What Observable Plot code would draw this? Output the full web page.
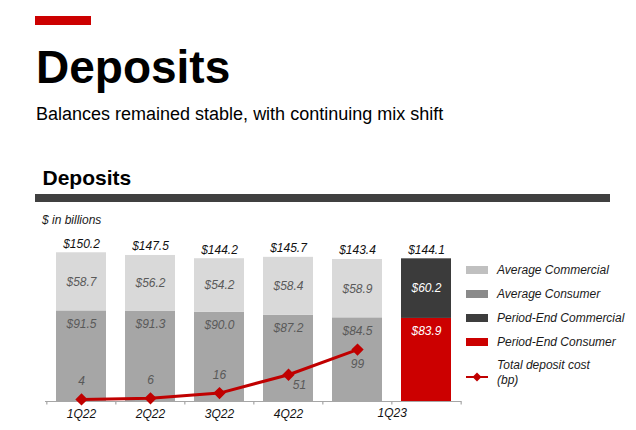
<!DOCTYPE html>
<html>
<head>
<meta charset="utf-8">
<script src="https://cdn.jsdelivr.net/npm/d3@7"></script>
<script src="https://cdn.jsdelivr.net/npm/@observablehq/plot@0.6"></script>
<style>
  html, body { margin: 0; padding: 0; background: #fff; }
  body { width: 636px; height: 430px; position: relative; overflow: hidden; font-family: "Liberation Sans", Arial, sans-serif; color: #000; }
  .abs { position: absolute; white-space: nowrap; }
  #redbar { left: 35px; top: 16px; width: 56px; height: 9px; background: #cc0000; }
  #title { left: 36px; top: 44px; font-size: 46px; line-height: 46px; font-weight: bold; }
  #subtitle { left: 36px; top: 105px; font-size: 18px; line-height: 18px; }
  #section { left: 42.5px; top: 167px; font-size: 21px; line-height: 21px; font-weight: bold; }
  #darkbar { left: 35px; top: 194px; width: 575px; height: 8px; background: #404040; }
  #unit { left: 42px; top: 214px; font-size: 12px; line-height: 12px; font-style: italic; color: #1a1a1a; }
  #chart { position: absolute; left: 0; top: 205px; }
  .lg-sw { position: absolute; width: 22px; height: 8.5px; }
  .lg-tx { position: absolute; font-size: 12px; line-height: 12px; font-style: italic; color: #1a1a1a; white-space: nowrap; }
</style>
</head>
<body>
<div class="abs" id="redbar"></div>
<div class="abs" id="title">Deposits</div>
<div class="abs" id="subtitle">Balances remained stable, with continuing mix shift</div>
<div class="abs" id="section">Deposits</div>
<div class="abs" id="darkbar"></div>
<div class="abs" id="unit">$ in billions</div>
<div id="chart"></div>
<div id="legend"></div>
<script>
// ---- data ----
const barKeys = ["1Q22", "2Q22", "3Q22", "4Q22", "1Q23 Avg", "1Q23 PE"];
const barKind = ["Average", "Average", "Average", "Average", "Average", "Period-End"];
const commercial = [58.7, 56.2, 54.2, 58.4, 58.9, 60.2];
const consumer = [91.5, 91.3, 90.0, 87.2, 84.5, 83.9];
const totals = [150.2, 147.5, 144.2, 145.7, 143.4, 144.1];
const costKeys = ["1Q22", "2Q22", "3Q22", "4Q22", "1Q23 Avg"];
const costBp = [4, 6, 16, 51, 99];
const quarterLabels = ["1Q22", "2Q22", "3Q22", "4Q22"];
const lastQuarterLabel = "1Q23";
const seriesNames = ["Average Commercial", "Average Consumer", "Period-End Commercial", "Period-End Consumer"];
const seriesColors = ["#d9d9d9", "#a6a6a6", "#3b3b3b", "#cc0000"];
const legendColors = ["#c0c0c0", "#8a8a8a", "#3d3d3d", "#cc0000"];
const bpScale = 0.53; // secondary axis: bp -> $bn units

// ---- build tables ----
const segments = [];
barKeys.forEach((k, i) => {
  segments.push({bar: k, series: barKind[i] + " Consumer", value: consumer[i]});
});
barKeys.forEach((k, i) => {
  segments.push({bar: k, series: barKind[i] + " Commercial", value: commercial[i]});
});
const bars = barKeys.map((k, i) => ({bar: k, kind: barKind[i], total: totals[i], consumer: consumer[i], commercial: commercial[i]}));
const costs = costKeys.map((k, i) => ({bar: k, bp: costBp[i], i}));

// ---- layout ----
const W = 636, H = 225, mL = 45, mR = 175, mT = 25, mB = 29;
const yMax = 172.7;
const step = (W - mL - mR) / barKeys.length;
const tickLen = 3.5 * yMax / (H - mT - mB);

const fmt = v => "$" + v.toFixed(1);
const labelFont = {fontSize: 12, fontStyle: "italic"};
const axisGray = "#a6a6a6";

const chart = Plot.plot({
  width: W, height: H,
  marginLeft: mL, marginRight: mR, marginTop: mT, marginBottom: mB,
  style: {fontFamily: "'Liberation Sans', Arial, sans-serif", overflow: "visible", background: "transparent"},
  x: {type: "band", domain: barKeys, paddingInner: 0.28, paddingOuter: 0.14, axis: null},
  y: {domain: [0, yMax], axis: null},
  color: {domain: seriesNames, range: seriesColors},
  marks: [
    Plot.barY(segments, {x: "bar", y: "value", fill: "series"}),
    Plot.ruleY([0], {stroke: axisGray, strokeWidth: 1.2}),
    Plot.ruleX(barKeys, {x: d => d, dx: -step / 2, y1: 0, y2: -tickLen, stroke: axisGray, strokeWidth: 1.2}),
    Plot.ruleX([barKeys[barKeys.length - 1]], {x: d => d, dx: step / 2, y1: 0, y2: -tickLen, stroke: axisGray, strokeWidth: 1.2}),
    // totals above bars
    Plot.text(bars, {x: "bar", y: "total", text: d => fmt(d.total), dy: -9, fill: "#111", ...labelFont}),
    // commercial labels (centered in segment)
    Plot.text(bars, {x: "bar", y: d => d.consumer + d.commercial / 2, text: d => fmt(d.commercial),
      fill: d => d.kind === "Period-End" ? "#ffffff" : "#595959", ...labelFont}),
    // consumer labels (near top of segment)
    Plot.text(bars, {x: "bar", y: "consumer", text: d => fmt(d.consumer), dy: 13,
      fill: d => d.kind === "Period-End" ? "#ffffff" : "#595959", ...labelFont}),
    // deposit cost line
    Plot.line(costs, {x: "bar", y: d => d.bp * bpScale, stroke: "#c00000", strokeWidth: 3}),
    Plot.dot(costs, {x: "bar", y: d => d.bp * bpScale, symbol: "diamond2", r: 4.6, fill: "#c00000", stroke: "#c00000"}),
    Plot.text(costs.filter(d => d.i < 3), {x: "bar", y: d => d.bp * bpScale, text: d => String(d.bp), dy: -18, fill: "#595959", ...labelFont}),
    Plot.text(costs.filter(d => d.i === 3), {x: "bar", y: d => d.bp * bpScale, text: d => String(d.bp), dx: 11, dy: 10, fill: "#595959", ...labelFont}),
    Plot.text(costs.filter(d => d.i === 4), {x: "bar", y: d => d.bp * bpScale, text: d => String(d.bp), dy: 15, fill: "#595959", ...labelFont}),
    // x labels
    Plot.text(quarterLabels, {x: d => d, y: 0, text: d => d, dy: 13, fill: "#111", ...labelFont}),
    Plot.text([lastQuarterLabel], {x: () => "1Q23 Avg", y: 0, text: d => d, dx: step / 2, dy: 12, fill: "#111", ...labelFont}),
  ]
});
document.getElementById("chart").appendChild(chart);

// ---- legend ----
const legend = document.getElementById("legend");
const baselines = [274, 298, 322, 346];
seriesNames.forEach((name, i) => {
  const sw = document.createElement("div");
  sw.className = "lg-sw";
  sw.style.left = "466px";
  sw.style.top = (baselines[i] - 8.5) + "px";
  sw.style.background = legendColors[i];
  legend.appendChild(sw);
  const tx = document.createElement("div");
  tx.className = "lg-tx";
  tx.style.left = "497px";
  tx.style.top = (baselines[i] - 10.2) + "px";
  tx.textContent = name;
  legend.appendChild(tx);
});
const lineSvg = document.createElementNS("http://www.w3.org/2000/svg", "svg");
lineSvg.setAttribute("width", "26");
lineSvg.setAttribute("height", "14");
lineSvg.style.position = "absolute";
lineSvg.style.left = "464px";
lineSvg.style.top = "370px";
lineSvg.innerHTML = '<line x1="2" x2="24" y1="7" y2="7" stroke="#c00000" stroke-width="2"/>' +
  '<polygon points="13,2.5 17.5,7 13,11.5 8.5,7" fill="#c00000"/>';
legend.appendChild(lineSvg);
["Total deposit cost", "(bp)"].forEach((t, j) => {
  const tx = document.createElement("div");
  tx.className = "lg-tx";
  tx.style.left = "497px";
  tx.style.top = ([369.5, 384][j] - 10.2) + "px";
  tx.textContent = t;
  legend.appendChild(tx);
});
</script>
</body>
</html>
